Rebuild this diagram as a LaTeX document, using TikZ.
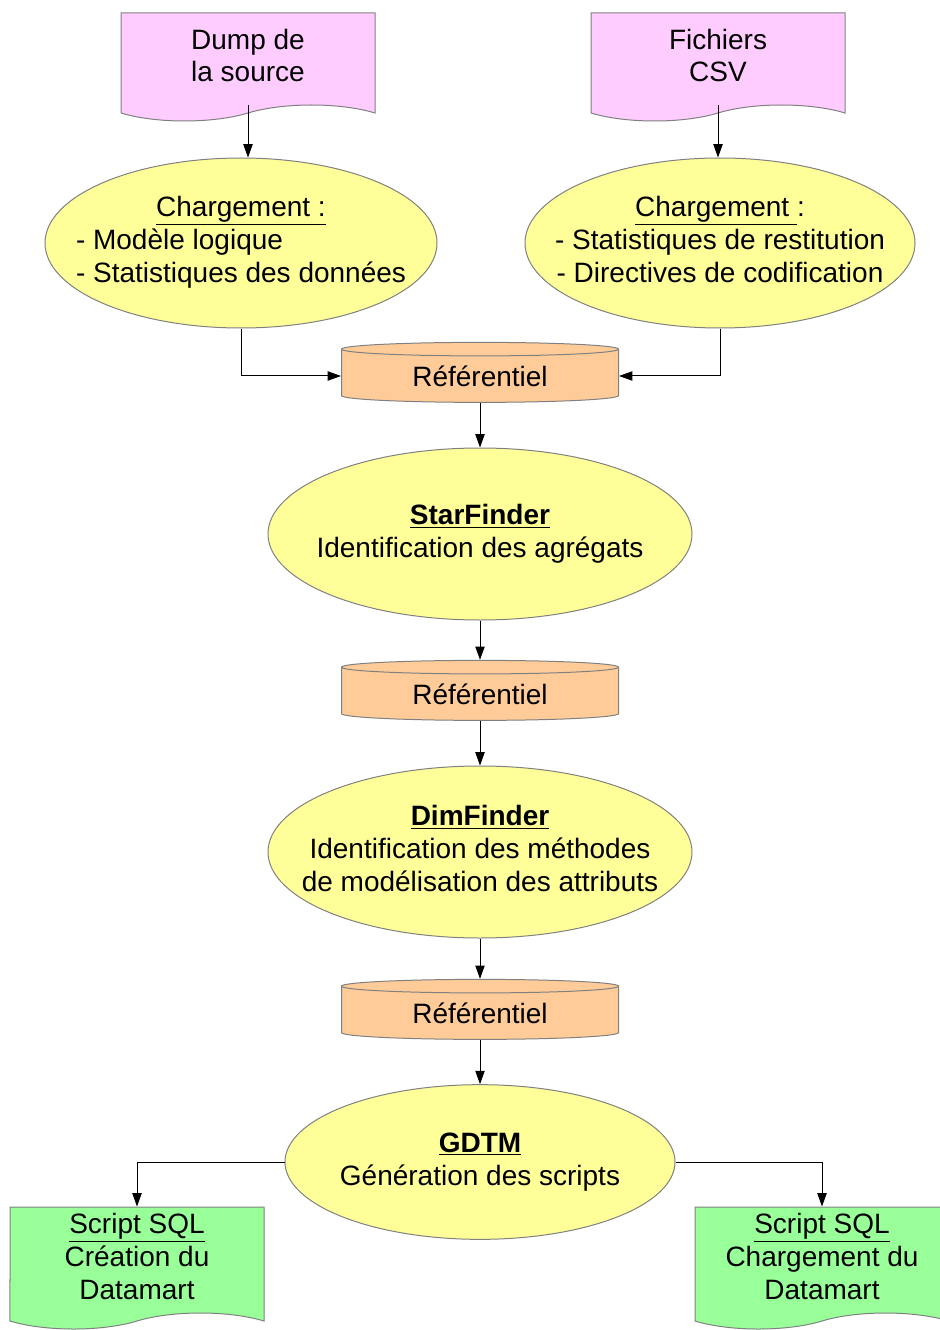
\documentclass[tikz,border=0pt]{standalone}
\usepackage{fontspec}
\setmainfont{Liberation Sans}
\usetikzlibrary{shapes.geometric,shapes.symbols,arrows.meta}
\definecolor{docpink}{RGB}{255,204,255}
\definecolor{procyellow}{RGB}{255,255,153}
\definecolor{storeorange}{RGB}{255,204,153}
\definecolor{scriptgreen}{RGB}{153,255,153}
\definecolor{shapeborder}{RGB}{128,128,128}

\begin{document}
\begin{tikzpicture}[x=0.75pt, y=-0.75pt,
    every node/.style={font=\fontsize{21}{24.5}\selectfont, align=center, text=black},
    docbox/.style={tape, tape bend top=none, tape bend bottom=in and out, tape bend height=12pt, draw=shapeborder, line width=0.75pt, minimum width=190.5pt, inner sep=0pt},
    procell/.style={ellipse, draw=shapeborder, fill=procyellow, line width=0.75pt, inner xsep=-40pt, inner ysep=-6pt},
    store/.style={cylinder, shape border rotate=90, aspect=0.1, draw=shapeborder, fill=storeorange, line width=0.75pt, minimum width=207.75pt, minimum height=45pt, inner sep=0pt},
    flow/.style={-{Triangle[length=10pt,width=7pt]}, line width=0.75pt}]
    \useasboundingbox (0,0) rectangle (939,1330);

    % Sources
    \node[docbox, fill=docpink, minimum height=81pt] (dump) at (248,59) {\raisebox{5pt}{\begin{tabular}{@{}c@{}}Dump de\\la source\end{tabular}}};
    \node[docbox, fill=docpink, minimum height=81pt] (csv) at (718,59) {\raisebox{5pt}{\begin{tabular}{@{}c@{}}Fichiers\\CSV\end{tabular}}};

    % Chargement
    \node[procell, minimum width=294pt, minimum height=127.5pt] (chargsrc) at (241,243) {\raisebox{16pt}{\begin{tabular}{@{}l@{}}\multicolumn{1}{@{}c@{}}{\underline{Chargement :}}\\- Modèle logique\\- Statistiques des données\end{tabular}}};
    \node[procell, minimum width=292.5pt, minimum height=127.5pt] (chargcsv) at (720,243) {\raisebox{16pt}{\begin{tabular}{@{}c@{}}\underline{Chargement }:\\- Statistiques de restitution\\- Directives de codification\end{tabular}}};

    % Referentiels
    \node[store] (refa) at (480,376) {Référentiel};
    \node[store] (refb) at (480,694) {Référentiel};
    \node[store] (refc) at (480,1013) {Référentiel};

    % Finders
    \node[procell, minimum width=318pt, minimum height=129pt] (star) at (480,534) {\underline{\textbf{StarFinder}}\\Identification des agrégats};
    \node[procell, minimum width=318pt, minimum height=129pt] (dim) at (480,852) {\raisebox{16pt}{\begin{tabular}{@{}c@{}}\underline{\textbf{DimFinder}}\\Identification des méthodes\\de modélisation des attributs\end{tabular}}};
    \node[procell, minimum width=292.5pt, minimum height=116pt] (gdtm) at (480,1162) {\underline{\textbf{GDTM}}\\Génération des scripts};

    % Scripts SQL
    \node[docbox, fill=scriptgreen, minimum height=91.5pt] (sqlcrea) at (137,1260) {\raisebox{7.5pt}{\begin{tabular}{@{}c@{}}\underline{Script SQL}\\Création du\\Datamart\end{tabular}}};
    \node[docbox, fill=scriptgreen, minimum height=91.5pt] (sqlchg) at (822,1260) {\raisebox{7.5pt}{\begin{tabular}{@{}c@{}}\underline{Script SQL}\\Chargement du\\Datamart\end{tabular}}};

    % Flows
    \draw[flow] (dump.south) -- (dump.south |- chargsrc.north);
    \draw[flow] (csv.south) -- (csv.south |- chargcsv.north);
    \draw[flow] (chargsrc.south) |- (refa.west);
    \draw[flow] (chargcsv.south) |- (refa.east);
    \draw[flow] (refa) -- (star);
    \draw[flow] (star) -- (refb);
    \draw[flow] (refb) -- (dim);
    \draw[flow] (dim) -- (refc);
    \draw[flow] (refc) -- (gdtm);
    \draw[flow] (gdtm.west) -| (sqlcrea.north);
    \draw[flow] (gdtm.east) -| (sqlchg.north);
\end{tikzpicture}
\end{document}
